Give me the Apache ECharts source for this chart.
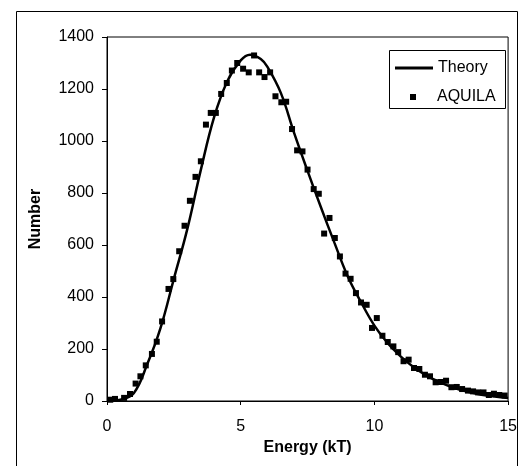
<!DOCTYPE html>
<html>
<head>
<meta charset="utf-8">
<script src="https://cdn.jsdelivr.net/npm/echarts@6/dist/echarts.min.js"></script>
<style>
  html, body { margin: 0; padding: 0; background: #fff; }
  #chart { width: 520px; height: 466px; }
</style>
</head>
<body>
<div id="chart"></div>
<script>
const aquilaX = [0.12, 0.3, 0.64, 0.86, 1.07, 1.25, 1.45, 1.68, 1.86, 2.06, 2.3, 2.48, 2.7, 2.9, 3.1, 3.31, 3.51, 3.7, 3.88, 4.07,
  4.27, 4.48, 4.67, 4.87, 5.09, 5.3, 5.5, 5.69, 5.89, 6.1, 6.3, 6.52, 6.7, 6.92, 7.11, 7.31, 7.5, 7.73, 7.92, 8.12,
  8.32, 8.52, 8.71, 8.92, 9.11, 9.31, 9.5, 9.71, 9.91, 10.09, 10.3, 10.5, 10.71, 10.89, 11.09, 11.28, 11.48, 11.68, 11.89, 12.08,
  12.29, 12.49, 12.68, 12.88, 13.08, 13.28, 13.5, 13.69, 13.88, 14.08, 14.28, 14.47, 14.67, 14.87];
const aquilaY = [5, 8, 12, 27, 67, 95, 137, 181, 228, 306, 431, 469, 576, 674, 770, 862, 922, 1063, 1108, 1108,
  1181, 1223, 1271, 1300, 1278, 1264, 1329, 1264, 1246, 1264, 1172, 1149, 1151, 1046, 964, 960, 890, 815, 797, 644,
  704, 627, 556, 490, 470, 415, 379, 370, 281, 319, 251, 227, 210, 188, 153, 159, 127, 123, 101, 95,
  72, 73, 78, 53, 54, 46, 40, 37, 33, 33, 23, 28, 23, 21];

// theory curve
const theoryX = [0, 0.5, 1, 1.5, 2, 2.5, 3, 3.5, 4, 4.5, 5, 5.35, 5.75, 6, 6.5, 7, 7.5, 8, 8.5, 9,
  9.5, 10, 10.5, 11, 11.5, 12, 12.5, 13, 13.5, 14, 14.5, 15];
const theoryY = [0, 5, 30, 140, 280, 470, 660, 885, 1090, 1230, 1310, 1332, 1315, 1285, 1185, 1030, 885, 745, 610, 480,
  380, 290, 222, 170, 128, 95, 70, 50, 35, 24, 17, 12];

const chart = echarts.init(document.getElementById('chart'));
const font = 'Liberation Sans, Arial, sans-serif';

chart.setOption({
  animation: false,
  textStyle: { fontFamily: font },
  grid: { left: 107, right: 6, top: 37, bottom: 65, show: true, borderColor: '#000', borderWidth: 1, backgroundColor: 'transparent' },
  graphic: [
    {
      type: 'rect', left: 14, top: 9,
      shape: { width: 501, height: 455 },
      style: { fill: 'none', stroke: '#000', lineWidth: 1 }
    },
    {
      // legend box
      type: 'rect', left: 389, top: 50, z: 10,
      shape: { width: 116, height: 58 },
      style: { fill: '#fff', stroke: '#000', lineWidth: 1 }
    }
  ],
  legend: [
    {
      data: [{ name: 'Theory', icon: 'rect' }],
      left: 395, top: 60, padding: 0, z: 20,
      itemWidth: 38, itemHeight: 3,
      textStyle: { fontSize: 16, color: '#000', fontFamily: font }
    },
    {
      data: [{ name: 'AQUILA', icon: 'rect' }],
      left: 410, top: 89, padding: 0, z: 20,
      itemWidth: 6, itemHeight: 6,
      textStyle: { fontSize: 16, color: '#000', fontFamily: font, padding: [0, 0, 0, 16] }
    }
  ],
  xAxis: {
    type: 'value', min: 0, max: 15, interval: 5,
    name: 'Energy (kT)', nameLocation: 'middle', nameGap: 29,
    nameTextStyle: { fontSize: 16, fontWeight: 'bold', color: '#000' },
    axisLine: { lineStyle: { color: '#000' } },
    axisTick: { show: true, inside: false, length: 4, lineStyle: { color: '#000' } },
    axisLabel: { fontSize: 16, color: '#000', margin: 18 },
    splitLine: { show: false }
  },
  yAxis: {
    type: 'value', min: 0, max: 1400, interval: 200,
    name: 'Number', nameLocation: 'middle', nameGap: 63, nameRotate: 90,
    nameTextStyle: { fontSize: 16, fontWeight: 'bold', color: '#000' },
    axisLine: { show: true, lineStyle: { color: '#000' } },
    axisTick: { show: true, inside: false, length: 5, lineStyle: { color: '#000' } },
    axisLabel: { fontSize: 16, color: '#000', margin: 13, formatter: v => String(v) },
    splitLine: { show: false }
  },
  series: [
    {
      name: 'Theory', type: 'line', smooth: 0.4, symbol: 'none',
      lineStyle: { color: '#000', width: 2.5 },
      itemStyle: { color: '#000' },
      data: theoryX.map((x, i) => [x, theoryY[i]]),
      z: 3
    },
    {
      name: 'AQUILA', type: 'scatter', symbol: 'rect', symbolSize: 6,
      itemStyle: { color: '#000', opacity: 1 },
      data: aquilaX.map((x, i) => [x, aquilaY[i]]),
      z: 2
    }
  ]
});
</script>
</body>
</html>
